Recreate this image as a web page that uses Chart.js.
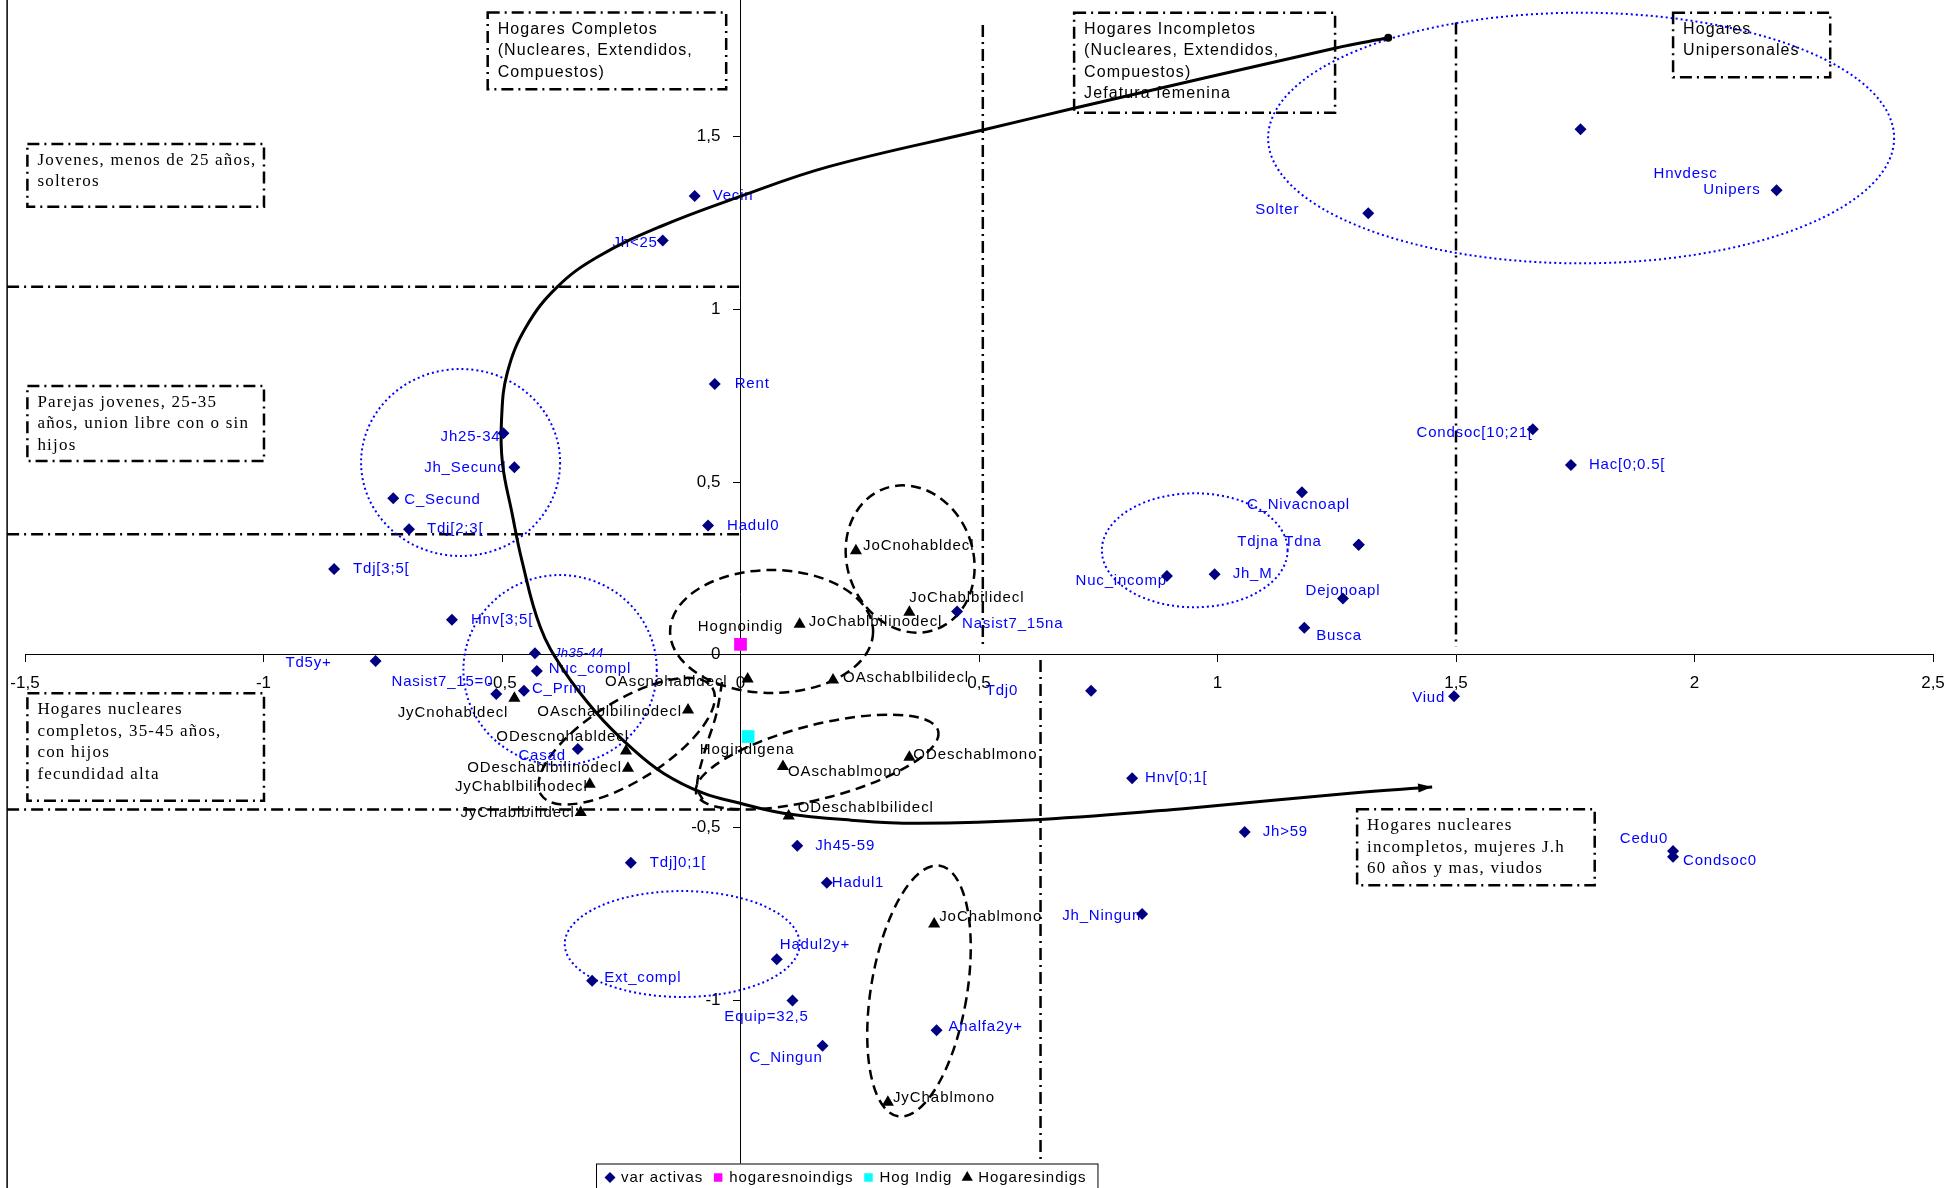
<!DOCTYPE html>
<html><head><meta charset="utf-8">
<script src="https://cdn.jsdelivr.net/npm/chart.js@4.4.1/dist/chart.umd.min.js"></script>
<style>html,body{margin:0;padding:0;background:#fff;overflow:hidden}canvas{display:block}</style>
</head><body>
<canvas id="c" width="1948" height="1188"></canvas>
<script>
// ---------------- data ----------------
const activeNames = ['Vecin','Jh<25','Rent','Jh25-34','Jh_Secund','C_Secund','Tdj[2;3[','Hadul0','Tdj[3;5[','Hnv[3;5[','Td5y+','Jh35-44','Nuc_compl','C_Prim','Nasist7_15=0','Casad','Tdj]0;1[','Ext_compl','Jh45-59','Hadul1','Hadul2y+','Equip=32,5','C_Ningun','Analfa2y+','Jh_Ningun','Hnv[0;1[','Tdj0','Nasist7_15na','Nuc_incomp','Jh_M','C_Nivacnoapl','Tdna','Tdjna','Dejonoapl','Busca','Viud','Jh>59','Condsoc[10;21[','Hac[0;0.5[','Solter','Hnvdesc','Unipers','Cedu0','Condsoc0'];
const activeX = [-0.096,-0.163,-0.054,-0.497,-0.474,-0.728,-0.695,-0.068,-0.852,-0.605,-0.765,-0.431,-0.427,-0.454,-0.512,-0.341,-0.230,-0.311,0.119,0.181,0.076,0.109,0.172,0.411,0.842,0.821,0.735,0.454,0.894,0.994,1.177,1.296,1.296,1.263,1.182,1.496,1.057,1.661,1.741,1.316,1.761,2.172,1.955,1.955];
const activeY = [1.328,1.199,0.784,0.641,0.543,0.453,0.363,0.374,0.248,0.101,-0.018,0.004,-0.047,-0.104,-0.114,-0.273,-0.602,-0.944,-0.553,-0.660,-0.882,-1.001,-1.132,-1.087,-0.751,-0.358,-0.104,0.125,0.228,0.233,0.470,0.318,0.318,0.163,0.078,-0.120,-0.513,0.653,0.549,1.278,1.521,1.345,-0.568,-0.585];

const noIndigNames = ['Hognoindig'];
const noIndigX = [0.000];
const noIndigY = [0.030];

const hogIndigNames = ['Hogindigena'];
const hogIndigX = [0.016];
const hogIndigY = [-0.237];

const indigNames = ['JoCnohabldecl','JoChablbilidecl','JoChablbilinodecl','OAscnohabldecl','OAschablbilidecl','OAschablbilinodecl','JyCnohabldecl','ODescnohabldecl','ODeschablbilinodecl','JyChablbilinodecl','JyChablbilidecl','OAschablmono','ODeschablmono','ODeschablbilidecl','JoChablmono','JyChablmono'];
const indigX = [0.242,0.354,0.124,0.015,0.194,-0.110,-0.474,-0.240,-0.236,-0.316,-0.335,0.089,0.354,0.101,0.406,0.309];
const indigY = [0.301,0.123,0.088,-0.070,-0.073,-0.160,-0.126,-0.279,-0.329,-0.375,-0.457,-0.324,-0.297,-0.467,-0.780,-1.296];

// hand-drawn trajectory arrow
const trendX = [1.358,1.246,0.699,0.508,0.185,-0.002,-0.169,-0.299,-0.384,-0.449,-0.489,-0.501,-0.499,-0.479,-0.4585,-0.420,-0.3713,-0.301,-0.2315,-0.1616,-0.0778,-0.0008,0.090,0.232,0.372,0.629,0.934,1.278,1.450];
const trendY = [1.786,1.756,1.582,1.519,1.413,1.326,1.239,1.152,1.065,0.950,0.816,0.680,0.554,0.410,0.274,0.081,-0.044,-0.170,-0.266,-0.343,-0.401,-0.430,-0.459,-0.479,-0.488,-0.477,-0.445,-0.401,-0.383];

const xTicks = [-1.5,-1,-0.5,0,0.5,1,1.5,2,2.5];
const yTicks = [-1,-0.5,0,0.5,1,1.5];
const legendNames = ['var activas','hogaresnoindigs','Hog Indig','Hogaresindigs'];

// ---------------- annotations (data coordinates) ----------------
const refLines = [
  {x1:-1.5375,y1:1.065,x2:0,y2:1.065},
  {x1:-1.5375,y1:0.349,x2:0,y2:0.349},
  {x1:-1.5375,y1:-0.448,x2:0,y2:-0.448},
  {x1:0.508,y1:1.823,x2:0.508,y2:0.023},
  {x1:0.629,y1:-0.015,x2:0.629,y2:-1.482},
  {x1:1.500,y1:1.830,x2:1.500,y2:0.023}
];
const notes = [
  {x1:-0.530,y1:1.859,x2:-0.030,y2:1.637,serif:false,lines:['Hogares Completos','(Nucleares, Extendidos,','Compuestos)']},
  {x1:0.6994,y1:1.8587,x2:1.2465,y2:1.5692,serif:false,lines:['Hogares Incompletos','(Nucleares, Extendidos,','Compuestos)','Jefatura femenina']},
  {x1:1.9551,y1:1.8587,x2:2.2845,y2:1.6717,serif:false,lines:['Hogares','Unipersonales']},
  {x1:-1.495,y1:1.4786,x2:-0.999,y2:1.297,serif:true,lines:['Jovenes, menos de 25 años,','solteros']},
  {x1:-1.495,y1:0.778,x2:-0.999,y2:0.5608,serif:true,lines:['Parejas jovenes, 25-35','años, union libre con o sin','hijos']},
  {x1:-1.495,y1:-0.1118,x2:-0.999,y2:-0.4227,serif:true,lines:['Hogares nucleares','completos, 35-45 años,','con hijos','fecundidad alta']},
  {x1:1.2927,y1:-0.4476,x2:1.7908,y2:-0.6676,serif:true,lines:['Hogares nucleares','incompletos, mujeres J.h','60 años y mas, viudos']}
];
const ellipses = [
  {cx:-0.5868,cy:0.5565,rx:0.2086,ry:0.2707,rot:0,dotted:true},
  {cx:-0.3782,cy:-0.0443,rx:0.2027,ry:0.275,rot:0,dotted:true},
  {cx:-0.1222,cy:-0.8376,rx:0.2463,ry:0.1534,rot:0,dotted:true},
  {cx:0.9523,cy:0.3023,rx:0.1947,ry:0.165,rot:0,dotted:true},
  {cx:1.7623,cy:1.4959,rx:0.6562,ry:0.3628,rot:0,dotted:true},
  {cx:0.0652,cy:0.0672,rx:0.2128,ry:0.178,rot:0,dotted:false},
  {cx:0.3556,cy:0.2771,rx:0.132,ry:0.217,rot:-20,dotted:false},
  {cx:0.1606,cy:-0.3107,rx:0.262,ry:0.107,rot:-14.4,dotted:false},
  {cx:-0.2386,cy:-0.2504,rx:0.2117,ry:0.1158,rot:-32,dotted:false},
  {cx:0.3742,cy:-0.9737,rx:0.1006,ry:0.3677,rot:9.5,dotted:false}
];
const tailX = [-0.0386,-0.0511,-0.0742,-0.0910,-0.0742];
const tailY = [-0.079,-0.1746,-0.2759,-0.3773,-0.4294];
const frameX = -1.5375;

// label placement: [align, dx(px), dy(px), style]
const labelPlace = {
 'Vecin':['l',18,0],'Jh<25':['r',-5,2],'Rent':['l',20,0],'Jh25-34':['r',-3,4],'Jh_Secund':['r',-8,1],
 'C_Secund':['l',11,2],'Tdj[2;3[':['l',18,0],'Hadul0':['l',19,0],'Tdj[3;5[':['l',19,0],'Hnv[3;5[':['l',19,0],
 'Td5y+':['r',-44,2],'Jh35-44':['l',19,0,'i'],'Nuc_compl':['l',12,-2],'C_Prim':['l',8,-2],'Nasist7_15=0':['r',-3,-12],
 'Casad':['r',-12,7],'Tdj]0;1[':['l',19,0],'Ext_compl':['l',12,-3],'Jh45-59':['l',18,0],'Hadul1':['l',5,0],
 'Hadul2y+':['l',3,-14],'Equip=32,5':['c',-26,16],'C_Ningun':['r',0,12],'Analfa2y+':['l',12,-3],'Jh_Ningun':['r',-1,2],
 'Hnv[0;1[':['l',13,0],'Tdj0':['r',-73,0],'Nasist7_15na':['l',5,12],'Nuc_incomp':['r',0,5],'Jh_M':['l',18,0],
 'C_Nivacnoapl':['l',-55,12],'Tdna':['r',-37,-3],'Tdjna':['r',-80,-3],'Dejonoapl':['c',0,-8],'Busca':['l',12,8],
 'Viud':['r',-9,2],'Jh>59':['l',18,0],'Condsoc[10;21[':['r',0,4],'Hac[0;0.5[':['l',18,0],'Solter':['r',-69,-3],
 'Hnvdesc':['l',73,45],'Unipers':['r',-16,0],'Cedu0':['r',-5,-12],'Condsoc0':['l',10,4],
 'JoCnohabldecl':['l',7,-5],'JoChablbilidecl':['l',0,-14],'JoChablbilinodecl':['l',9,-2],'OAscnohabldecl':['r',-20,3],
 'OAschablbilidecl':['l',10,-2],'OAschablbilinodecl':['r',-6,2],'JyCnohabldecl':['r',-6,15],'ODescnohabldecl':['r',3,-14],
 'ODeschablbilinodecl':['r',-6,0],'JyChablbilinodecl':['r',-2,3],'JyChablbilidecl':['r',-6,0],'OAschablmono':['l',5,5],
 'ODeschablmono':['l',4,-2],'ODeschablbilidecl':['l',9,-8],'JoChablmono':['l',5,-7],'JyChablmono':['l',5,-4],
 'Hognoindig':['c',0,-17],'Hogindigena':['c',-1,13]
};

const SANS = "'Liberation Sans', Arial, sans-serif";
const SERIF = "'Liberation Serif', 'Times New Roman', serif";
const fmt = v => (Math.round(v * 10) / 10).toString().replace('.', ',');
const pts = (xs, ys) => xs.map((x, i) => ({x, y: ys[i]}));

function setSpacing(ctx, s) { if ('letterSpacing' in ctx) ctx.letterSpacing = s + 'px'; }

function smoothPath(ctx, p) {
  ctx.moveTo(p[0][0], p[0][1]);
  for (let i = 0; i < p.length - 1; i++) {
    const p0 = p[i - 1] || p[i], p1 = p[i], p2 = p[i + 1], p3 = p[i + 2] || p2;
    const c1x = p1[0] + (p2[0] - p0[0]) / 6, c1y = p1[1] + (p2[1] - p0[1]) / 6;
    const c2x = p2[0] - (p3[0] - p1[0]) / 6, c2y = p2[1] - (p3[1] - p1[1]) / 6;
    ctx.bezierCurveTo(c1x, c1y, c2x, c2y, p2[0], p2[1]);
  }
}

// place y-axis tick labels to the left of the centred axis (gap after tick mark)
function shiftYLabels(scale) {
  if (scale._patched) return;
  scale._patched = true;
  const orig = scale._computeLabelItems;
  scale._computeLabelItems = function (ca) {
    const items = orig.call(this, ca);
    const ax = this.chart.scales.x.getPixelForValue(0);
    items.forEach(it => {
      if (it.options && it.options.translation) {
        it.options.translation[0] = ax - 20;
        it.options.textAlign = 'right';
      }
    });
    return items;
  };
}

const decor = {
  id: 'decor',
  beforeDatasetsDraw(chart) {
    const ctx = chart.ctx, xs = chart.scales.x, ys = chart.scales.y, ca = chart.chartArea;
    const X = v => xs.getPixelForValue(v), Y = v => ys.getPixelForValue(v);
    ctx.save();
    // left frame
    ctx.strokeStyle = '#000'; ctx.lineWidth = 1.5; ctx.setLineDash([]);
    ctx.beginPath(); ctx.moveTo(X(frameX), ca.top); ctx.lineTo(X(frameX), ca.bottom); ctx.stroke();
    // reference dash-dot lines
    ctx.lineWidth = 2.5; ctx.setLineDash([12, 5, 2, 5]);
    refLines.forEach(l => { ctx.beginPath(); ctx.moveTo(X(l.x1), Y(l.y1)); ctx.lineTo(X(l.x2), Y(l.y2)); ctx.stroke(); });
    // note boxes
    notes.forEach(n => {
      const x1 = X(n.x1), y1 = Y(n.y1), x2 = X(n.x2), y2 = Y(n.y2);
      ctx.setLineDash([12, 5, 2, 5]); ctx.lineWidth = 2.5; ctx.strokeStyle = '#000';
      ctx.strokeRect(x1, y1, x2 - x1, y2 - y1);
      ctx.fillStyle = '#000'; ctx.textAlign = 'left'; ctx.textBaseline = 'middle';
      if (n.serif) { ctx.font = '17px ' + SERIF; setSpacing(ctx, 1.2); }
      else { ctx.font = '16px ' + SANS; setSpacing(ctx, 1.1); }
      n.lines.forEach((t, i) => ctx.fillText(t, x1 + 10, y1 + 16.5 + i * 21.5));
      setSpacing(ctx, 0);
    });
    // ellipses
    ellipses.forEach(e => {
      const cx = X(e.cx), cy = Y(e.cy);
      const rx = Math.abs(X(e.cx + e.rx) - cx), ry = Math.abs(Y(e.cy + e.ry) - cy);
      if (e.dotted) { ctx.strokeStyle = '#0000FF'; ctx.lineWidth = 2; ctx.setLineDash([2, 3]); }
      else { ctx.strokeStyle = '#000'; ctx.lineWidth = 2.5; ctx.setLineDash([10, 6]); }
      ctx.beginPath(); ctx.ellipse(cx, cy, rx, ry, e.rot * Math.PI / 180, 0, Math.PI * 2); ctx.stroke();
    });
    // tail stroke
    ctx.strokeStyle = '#000'; ctx.lineWidth = 2.5; ctx.setLineDash([10, 6]);
    ctx.beginPath(); smoothPath(ctx, tailX.map((x, i) => [X(x), Y(tailY[i])])); ctx.stroke();
    ctx.setLineDash([]);
    // point labels
    ctx.textBaseline = 'middle';
    const groups = [[0, activeNames, '#0000FF'], [1, noIndigNames, '#000'], [2, hogIndigNames, '#000'], [3, indigNames, '#000']];
    groups.forEach(([di, names, col]) => {
      const meta = chart.getDatasetMeta(di);
      meta.data.forEach((el, i) => {
        const nm = names[i], p = labelPlace[nm] || ['l', 12, 0];
        if (p[3] === 'i') { ctx.font = 'italic 13px ' + SANS; setSpacing(ctx, 0.4); }
        else { ctx.font = '15px ' + SANS; setSpacing(ctx, col === '#000' ? 0.95 : 0.8); }
        ctx.fillStyle = col;
        ctx.textAlign = p[0] === 'l' ? 'left' : p[0] === 'r' ? 'right' : 'center';
        ctx.fillText(nm, el.x + p[1], el.y + p[2]);
      });
    });
    setSpacing(ctx, 0);
    ctx.restore();
  },
  afterDatasetsDraw(chart) {
    const ctx = chart.ctx, ca = chart.chartArea;
    ctx.save();
    // arrow head
    const tm = chart.getDatasetMeta(4).data;
    const a = tm[tm.length - 2], b = tm[tm.length - 1];
    const ang = Math.atan2(b.y - a.y, b.x - a.x);
    ctx.fillStyle = '#000';
    ctx.beginPath();
    ctx.moveTo(b.x, b.y);
    ctx.lineTo(b.x - 14 * Math.cos(ang) + 4.5 * Math.sin(ang), b.y - 14 * Math.sin(ang) - 4.5 * Math.cos(ang));
    ctx.lineTo(b.x - 14 * Math.cos(ang) - 4.5 * Math.sin(ang), b.y - 14 * Math.sin(ang) + 4.5 * Math.cos(ang));
    ctx.closePath(); ctx.fill();
    // legend
    ctx.font = '15px ' + SANS; setSpacing(ctx, 0.95);
    const left = ca.left + 571, top = ca.bottom - 24.5, cy = top + 14;
    let cur = left + 8;
    const items = [];
    chart.data.datasets.slice(0, 4).forEach(ds => {
      const w = ctx.measureText(ds.label).width;
      items.push({ds, mx: cur + 6, tx: cur + 17, w});
      cur = cur + 17 + w + 9;
    });
    const right = cur + 2;
    ctx.fillStyle = '#fff'; ctx.fillRect(left, top, right - left, 40);
    ctx.strokeStyle = '#000'; ctx.lineWidth = 1; ctx.strokeRect(left + 0.5, top + 0.5, right - left, 40);
    items.forEach(it => {
      ctx.fillStyle = it.ds.backgroundColor;
      const st = it.ds.pointStyle;
      const r = st === 'rectRot' ? 5.5 : st === 'triangle' ? 6.5 : 6;
      Chart.helpers.drawPoint(ctx, {pointStyle: st, radius: r, rotation: 0, borderWidth: 0}, it.mx, cy);
      ctx.fillStyle = '#000'; ctx.textAlign = 'left'; ctx.textBaseline = 'middle';
      ctx.fillText(it.ds.label, it.tx, cy);
    });
    setSpacing(ctx, 0);
    ctx.restore();
  }
};

Chart.defaults.font.family = SANS;

new Chart(document.getElementById('c'), {
  type: 'scatter',
  data: {
    datasets: [
      {label: legendNames[0], data: pts(activeX, activeY), pointStyle: 'rectRot', pointRadius: 6, backgroundColor: '#000080', borderColor: '#000080', borderWidth: 0, clip: false},
      {label: legendNames[1], data: pts(noIndigX, noIndigY), pointStyle: 'rect', pointRadius: 9, backgroundColor: '#FF00FF', borderColor: '#FF00FF', borderWidth: 0, clip: false},
      {label: legendNames[2], data: pts(hogIndigX, hogIndigY), pointStyle: 'rect', pointRadius: 9, backgroundColor: '#00FFFF', borderColor: '#00FFFF', borderWidth: 0, clip: false},
      {label: legendNames[3], data: pts(indigX, indigY), pointStyle: 'triangle', pointRadius: 7, backgroundColor: '#000', borderColor: '#000', borderWidth: 0, clip: false},
      {label: 'trayectoria', type: 'line', data: pts(trendX, trendY), showLine: true, borderColor: '#000', borderWidth: 3, tension: 0.4, fill: false,
       pointRadius: trendX.map((_, i) => i === 0 ? 4 : 0), pointBackgroundColor: '#000', pointBorderWidth: 0, clip: false}
    ]
  },
  options: {
    responsive: false, animation: false, devicePixelRatio: 1,
    layout: {autoPadding: false, padding: {left: 25, right: 15, top: 0, bottom: 0}},
    plugins: {legend: {display: false}, tooltip: {enabled: false}},
    scales: {
      x: {
        type: 'linear', min: -1.5, max: 2.5, position: {y: 0},
        afterBuildTicks: s => { s.ticks = xTicks.map(v => ({value: v})); },
        afterFit: s => { s.height = 0; s.paddingLeft = 0; s.paddingRight = 0; },
        grid: {drawOnChartArea: false, drawTicks: true, tickLength: 7, color: '#000', lineWidth: 1},
        border: {display: true, color: '#000', width: 1},
        ticks: {color: '#000', font: {size: 17, family: SANS}, padding: 11, autoSkip: false, maxRotation: 0, minRotation: 0, callback: v => fmt(v)}
      },
      y: {
        type: 'linear', min: -1.544, max: 1.8955, position: {x: 0},
        afterBuildTicks: s => { s.ticks = yTicks.map(v => ({value: v})); },
        afterFit: s => { s.width = 0; s.paddingTop = 0; s.paddingBottom = 0; },
        afterUpdate: s => shiftYLabels(s),
        grid: {drawOnChartArea: false, drawTicks: true, tickLength: 7, color: '#000', lineWidth: 1},
        border: {display: true, color: '#000', width: 1},
        ticks: {color: '#000', font: {size: 17, family: SANS}, padding: 13, autoSkip: false, callback: v => fmt(v)}
      }
    }
  },
  plugins: [decor]
});
</script>
</body></html>
